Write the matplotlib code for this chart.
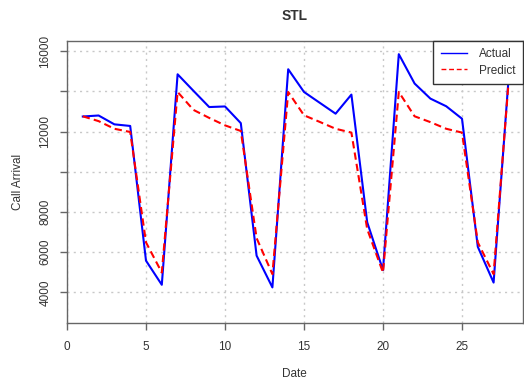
import matplotlib
matplotlib.use("Agg")
import matplotlib.pyplot as plt
import numpy as np

# data
days = list(range(1, 29))
actual = [12750, 12800, 12360, 12280, 5580, 4380, 14850, 14030, 13220, 13250,
          12420, 5830, 4250, 15100, 13970, 13430, 12890, 13840, 7490, 5110,
          15850, 14390, 13640, 13260, 12640, 6270, 4490, 15200]
predict = [12760, 12520, 12140, 11980, 6490, 4990, 13970, 13080, 12680, 12310,
           12030, 6700, 4910, 13970, 12810, 12480, 12140, 11950, 7150, 4990,
           13970, 12760, 12470, 12140, 11950, 6490, 4910, 15000]

x_ticks = [0, 5, 10, 15, 20, 25]
y_ticks = [4000, 6000, 8000, 10000, 12000, 14000, 16000]
y_tick_labels = ["4000", "6000", "8000", "", "12000", "", "16000"]

plt.rcParams['font.family'] = ['Liberation Sans', 'DejaVu Sans']
text_col = '#333333'
frame_col = '#666666'

W, H = 524, 384
fig = plt.figure(figsize=(W / 100, H / 100), dpi=100)
# axes box in pixels: left 66.5, right 523, top 40.7, bottom 323
ax = fig.add_axes([66.5 / W, (H - 323) / H, (523 - 66.5) / W, (323 - 40.7) / H])

for xv in x_ticks:
    ax.axvline(xv, color='#c8c8c8', lw=1, linestyle=(0, (1.5, 3)), zorder=1)
for yv in y_ticks:
    ax.axhline(yv, color='#c8c8c8', lw=1, linestyle=(0, (1.5, 3)), zorder=1)

ax.plot(days, actual, color='#0000ff', lw=1.5, label='Actual', zorder=3)
ax.plot(days, predict, color='#ff0000', lw=1.5, linestyle=(0, (3.5, 2)),
        label='Predict', zorder=3)

ax.set_xlim((66.5 - 67) / 15.8, (523 - 67) / 15.8)
ax.set_ylim(2480, 16520)

ax.set_xticks(x_ticks)
ax.set_yticks(y_ticks)
ax.set_yticklabels(y_tick_labels, rotation=90, va='center')
ax.tick_params(direction='out', length=5, width=1, color=frame_col,
               labelcolor=text_col, labelsize=8.5)
ax.tick_params(axis='x', pad=8)
ax.tick_params(axis='y', pad=6)
for s in ax.spines.values():
    s.set_color(frame_col)
    s.set_linewidth(1)

ax.set_xlabel('Date', fontsize=8.5, color=text_col, labelpad=11)
ax.set_ylabel('Call Arrival', fontsize=8.5, color=text_col, labelpad=11)
ax.set_title('STL', fontsize=10, fontweight='bold', color=text_col, pad=15)

leg = ax.legend(loc='upper right', fontsize=8.5, frameon=True, fancybox=False,
                borderaxespad=0, handlelength=2.2, handletextpad=1.0,
                borderpad=0.65, labelspacing=0.35)
leg.get_frame().set_edgecolor('#333333')
leg.get_frame().set_linewidth(1)
leg.get_frame().set_alpha(1)
for t in leg.get_texts():
    t.set_color(text_col)
for ln in leg.get_lines():
    ln.set_linewidth(1)
leg.set_zorder(5)

fig.savefig('out.png', dpi=100)
